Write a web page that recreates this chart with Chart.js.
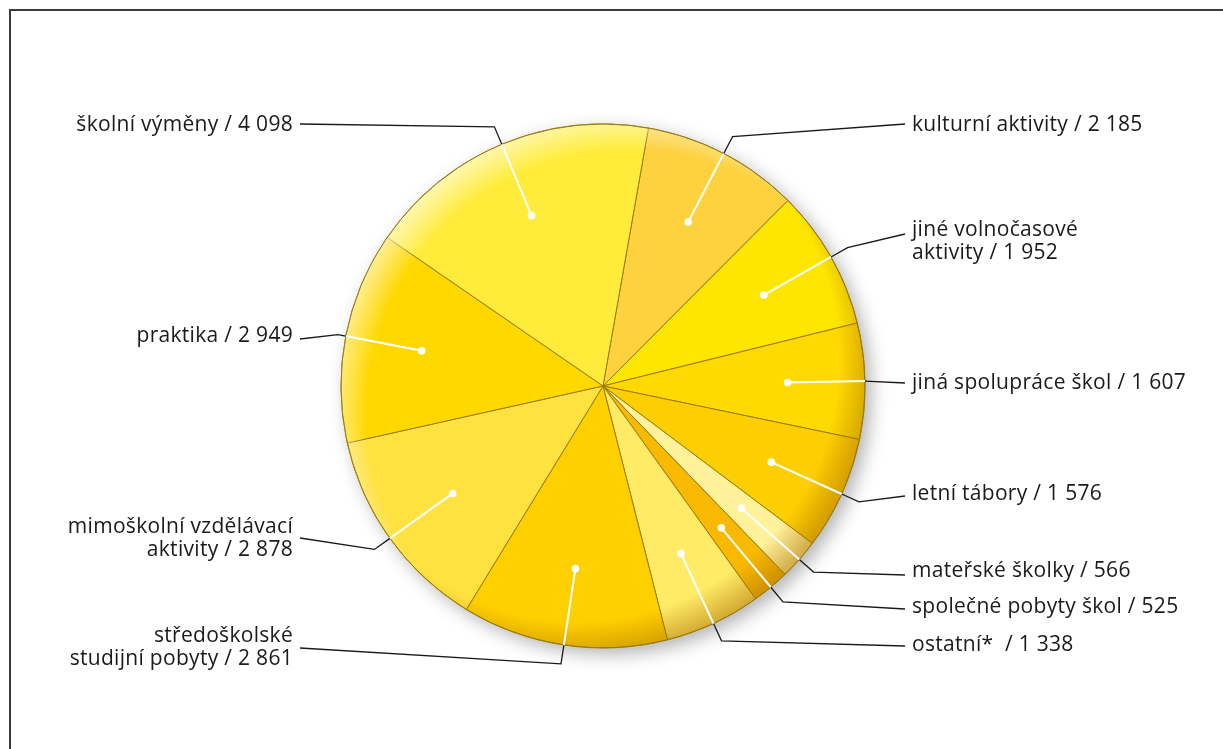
<!DOCTYPE html>
<html>
<head>
<meta charset="utf-8">
<script src="https://cdn.jsdelivr.net/npm/chart.js@4.4.0/dist/chart.umd.min.js"></script>
<style>
  html, body { margin: 0; padding: 0; background: #fff; }
  #wrap { position: relative; width: 1223px; height: 749px; overflow: hidden; }
  #frame { position: absolute; left: 9px; top: 9px; width: 1300px; height: 800px;
           border-top: 2px solid #3c3c3c; border-left: 2px solid #3c3c3c; }
  canvas { position: absolute; left: 0; top: 0; }
</style>
</head>
<body>
<div id="wrap">
  <div id="frame"></div>
  <canvas id="pieChart" width="1223" height="749"></canvas>
</div>
<script>
// Data (clockwise from the top)
const categories = [
  'kulturní aktivity',
  'jiné volnočasové aktivity',
  'jiná spolupráce škol',
  'letní tábory',
  'mateřské školky',
  'společné pobyty škol',
  'ostatní* ',
  'středoškolské studijní pobyty',
  'mimoškolní vzdělávací aktivity',
  'praktika',
  'školní výměny'
];
const values = [2185, 1952, 1607, 1576, 566, 525, 1338, 2861, 2878, 2949, 4098];
const sliceColors = [
  '#fdd23e', '#ffe600', '#ffd900', '#fecf00', '#fff29b', '#f9b900',
  '#ffeb66', '#fed000', '#ffe13f', '#ffd800', '#ffec3a'
];

// Label layout: side, text middle y of first line, y where the leader line ends,
// words on first line (0 = one line), distance of the bend outside the pie
const labelLayout = [
  { side: 'right', y: 125, lineY: 124, wrap: 0, bend: 19 },
  { side: 'right', y: 230, lineY: 234, wrap: 2, bend: 19 },
  { side: 'right', y: 383, lineY: 383, wrap: 0, bend: 0 },
  { side: 'right', y: 494, lineY: 496, wrap: 0, bend: 19 },
  { side: 'right', y: 571, lineY: 575, wrap: 0, bend: 19 },
  { side: 'right', y: 607, lineY: 609, wrap: 0, bend: 19 },
  { side: 'right', y: 645, lineY: 646, wrap: 0, bend: 19 },
  { side: 'left', y: 636, lineY: 648, wrap: 1, bend: 19 },
  { side: 'left', y: 527, lineY: 538, wrap: 2, bend: 19 },
  { side: 'left', y: 336, lineY: 339, wrap: 0, bend: 8 },
  { side: 'left', y: 125, lineY: 124, wrap: 0, bend: 19 }
];

function fmt(v) {
  return String(v).replace(/\B(?=(\d{3})+(?!\d))/g, ' ');
}

const pieDecor = {
  id: 'pieDecor',
  beforeDatasetsDraw(chart) {
    const ctx = chart.ctx;
    const a = chart.getDatasetMeta(0).data[0];
    ctx.save();
    ctx.shadowColor = 'rgba(0,0,0,0.3)';
    ctx.shadowBlur = 18;
    ctx.shadowOffsetX = 6;
    ctx.shadowOffsetY = 6;
    ctx.fillStyle = '#fff';
    ctx.beginPath();
    ctx.arc(a.x, a.y, a.outerRadius, 0, Math.PI * 2);
    ctx.fill();
    ctx.restore();
  },
  afterDatasetsDraw(chart) {
    const ctx = chart.ctx;
    const arcs = chart.getDatasetMeta(0).data;
    const cx = arcs[0].x, cy = arcs[0].y, R = arcs[0].outerRadius;

    // edge shading: darker towards bottom right, lighter towards top left
    ctx.save();
    ctx.beginPath();
    ctx.arc(cx, cy, R, 0, Math.PI * 2);
    ctx.clip();
    const off = 0.1 * R;
    let g = ctx.createRadialGradient(cx - off, cy - off, R, cx - off, cy - off, 1.13 * R);
    g.addColorStop(0, 'rgba(170,110,0,0)');
    g.addColorStop(1, 'rgba(170,110,0,0.5)');
    ctx.fillStyle = g;
    ctx.fillRect(cx - R, cy - R, 2 * R, 2 * R);
    g = ctx.createRadialGradient(cx + off, cy + off, R, cx + off, cy + off, 1.14 * R);
    g.addColorStop(0, 'rgba(255,255,255,0)');
    g.addColorStop(1, 'rgba(255,255,255,0.6)');
    ctx.fillStyle = g;
    ctx.fillRect(cx - R, cy - R, 2 * R, 2 * R);
    ctx.restore();

    ctx.save();
    ctx.strokeStyle = '#9a7b12';
    ctx.lineWidth = 1;
    ctx.beginPath();
    ctx.arc(cx, cy, R, 0, Math.PI * 2);
    ctx.stroke();
    ctx.restore();

    // leader lines and labels
    ctx.save();
    ctx.font = '21px "Open Sans", sans-serif';
    ctx.letterSpacing = '0.3px';
    ctx.textBaseline = 'middle';
    arcs.forEach((arc, i) => {
      const lay = labelLayout[i];
      const mid = (arc.startAngle + arc.endAngle) / 2;
      const cos = Math.cos(mid), sin = Math.sin(mid);
      const dot = { x: cx + cos * R * 0.705, y: cy + sin * R * 0.705 };
      const edge = { x: cx + cos * R, y: cy + sin * R };
      const bend = { x: cx + cos * (R + lay.bend), y: cy + sin * (R + lay.bend) };
      const endX = lay.side === 'left' ? 300 : 905;

      ctx.strokeStyle = '#1a1a1a';
      ctx.lineWidth = 1.3;
      ctx.beginPath();
      ctx.moveTo(edge.x, edge.y);
      ctx.lineTo(bend.x, bend.y);
      ctx.lineTo(endX, lay.lineY);
      ctx.stroke();

      ctx.strokeStyle = '#fff';
      ctx.lineWidth = 2;
      ctx.beginPath();
      ctx.moveTo(dot.x, dot.y);
      ctx.lineTo(edge.x, edge.y);
      ctx.stroke();
      ctx.fillStyle = '#fff';
      ctx.beginPath();
      ctx.arc(dot.x, dot.y, 3.8, 0, Math.PI * 2);
      ctx.fill();

      const words = (categories[i] + ' / ' + fmt(values[i])).split(' ');
      let lines;
      if (lay.wrap > 0) {
        lines = [words.slice(0, lay.wrap).join(' '), words.slice(lay.wrap).join(' ')];
      } else {
        lines = [words.join(' ')];
      }
      ctx.fillStyle = '#1a1a1a';
      ctx.textAlign = lay.side === 'left' ? 'right' : 'left';
      const tx = lay.side === 'left' ? 293 : 912;
      lines.forEach((t, k) => ctx.fillText(t, tx, lay.y + k * 23.5));
    });
    ctx.restore();
  }
};

const ctx = document.getElementById('pieChart').getContext('2d');
const pieChart = new Chart(ctx, {
  type: 'pie',
  data: {
    labels: categories,
    datasets: [{
      data: values,
      backgroundColor: sliceColors,
      borderColor: '#9a7b12',
      borderWidth: 1
    }]
  },
  options: {
    responsive: false,
    animation: false,
    rotation: 10,
    radius: 262,
    layout: { padding: { left: 0, right: 17, top: 23, bottom: 0 } },
    plugins: {
      legend: { display: false },
      tooltip: { enabled: false }
    }
  },
  plugins: [pieDecor]
});
</script>
</body>
</html>
